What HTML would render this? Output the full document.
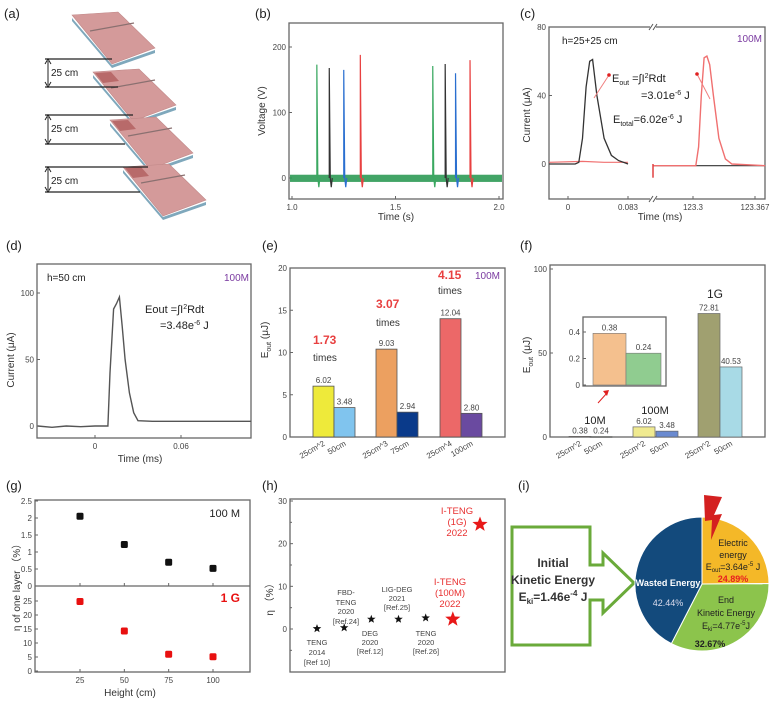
<!DOCTYPE html>
<html><head><meta charset="utf-8"><style>
html,body{margin:0;padding:0;background:#fff;}
svg{display:block;font-family:"Liberation Sans",Arial,sans-serif;}
.tk{font-size:8px;fill:#444;}
.ax{font-size:10px;fill:#333;}
.pl{font-size:13px;fill:#222;}
</style></head><body>
<svg id="fig" width="777" height="704" viewBox="0 0 777 704" xmlns="http://www.w3.org/2000/svg">
<text x="4" y="18" class="pl">(a)</text>
<g id="pa"></g>
<text x="255" y="18" class="pl">(b)</text>
<g id="pb"></g>
<text x="520" y="18" class="pl">(c)</text>
<g id="pc"></g>
<text x="6" y="250" class="pl">(d)</text>
<g id="pd"></g>
<text x="262" y="250" class="pl">(e)</text>
<g id="pe"></g>
<text x="520" y="250" class="pl">(f)</text>
<g id="pf"></g>
<text x="6" y="490" class="pl">(g)</text>
<g id="pg"></g>
<text x="262" y="490" class="pl">(h)</text>
<g id="ph"></g>
<text x="518" y="490" class="pl">(i)</text>
<g id="pi">
  <polygon points="512,527 590,527 590,565 603,565 603,553 634,583 603,613 603,600 590,600 590,645 512,645" fill="#fff" stroke="#6aaa3a" stroke-width="3"/>
  <text x="553" y="567" text-anchor="middle" font-size="12" font-weight="bold" fill="#333">Initial</text>
  <text x="553" y="584" text-anchor="middle" font-size="12" font-weight="bold" fill="#333">Kinetic Energy</text>
  <text x="553" y="601" text-anchor="middle" font-size="12" font-weight="bold" fill="#333">E<tspan font-size="8" dy="3">ki</tspan><tspan dy="-3">=1.46e</tspan><tspan font-size="8" dy="-5">-4</tspan><tspan dy="5"> J</tspan></text>
</g>
</svg>
<script>
// (b)
const bGreenT=[1.12,1.68], bGreenV=[173,171];
const bBlackT=[1.18,1.74], bBlackV=[168,174];
const bBlueT=[1.25,1.79], bBlueV=[165,160];
const bRedT=[1.33,1.86], bRedV=[188,180];
const bYTicks=[0,100,200], bXTicks=[1.0,1.5,2.0], bXTickLabels=["1.0","1.5","2.0"];
// (c)
const cBlackT=[-0.026,0,0.01,0.015,0.02,0.025,0.03,0.034,0.04,0.05,0.06,0.07,0.08,0.083];
const cBlackI=[0,0,0,1,15,45,60,61,40,15,5,2,0.5,0];
const cBlackT2=[123.257,123.3,123.33,123.378];
const cBlackI2=[-1,-1,-1,-1];
const cRedT=[-0.026,0.02,0.05,0.083];
const cRedI=[1,1.5,1,1];
const cRedT2=[123.257,123.3,123.303,123.306,123.309,123.312,123.315,123.318,123.322,123.328,123.335,123.342,123.378];
const cRedI2=[-1,-1,-1,10,40,62,63,58,40,15,3,0,-1];
const cYTicks=[0,40,80];
// (d)
const dT=[-0.040,-0.03,-0.02,-0.01,0,0.009,0.0105,0.013,0.015,0.017,0.019,0.021,0.024,0.027,0.03,0.04,0.06,0.08,0.109];
const dI=[0,-1,0,-0.5,0,0,40,88,92,97,75,50,25,10,4,3.5,3.5,3.5,3.5];
const dYTicks=[0,50,100];
// (e)
const eCats=["25cm^2","50cm","25cm^3","75cm","25cm^4","100cm"];
const eVals=[6.02,3.48,10.4,2.94,14.0,2.80];
const eLabels=["6.02","3.48","9.03","2.94","12.04","2.80"];
const eYTicks=[0,5,10,15,20];
// (f)
const fCats=["25cm^2","50cm","25cm^2","50cm","25cm^2","50cm"];
const fVals=[0.38,0.24,6.02,3.48,73.5,41.7];
const fLabels=["0.38","0.24","6.02","3.48","72.81","40.53"];
const fInsetVals=[0.39,0.24];
const fInsetLabels=["0.38","0.24"];
const fYTicks=[0,50,100];
const fInsetTicks=[0,0.2,0.4];
// (g)
const gHeights=[25,50,75,100];
const g100M=[2.05,1.22,0.70,0.52];
const g1G=[24.8,14.3,6.0,5.1];
const gUpperTicks=[0,0.5,1,1.5,2,2.5];
const gLowerTicks=[0,5,10,15,20,25];
// (h)
const hIdx=[0,1,2,3,4,5,6];
const hEta=[0.1,0.3,2.3,2.3,2.6,2.3,24.5];
const hYTicks=[0,10,20,30];
// (i)
const piePct=[24.89,32.67,42.44];

const NS="http://www.w3.org/2000/svg";
function mk(parent,tag,attrs,text){const e=document.createElementNS(NS,tag);for(const k in attrs)e.setAttribute(k,attrs[k]);if(text!==undefined)e.textContent=text;parent.appendChild(e);return e;}
function lin(d0,d1,r0,r1){return v=>r0+(v-d0)*(r1-r0)/(d1-d0);}
function box(g,x0,y0,x1,y1,name){const e=mk(g,'rect',{x:x0,y:y0,width:x1-x0,height:y1-y0,fill:'none',stroke:'#666','stroke-width':1.3});

return e;}
function ytick(g,x,y,lab,name){mk(g,'line',{x1:x,x2:x+3,y1:y,y2:y,stroke:'#666'});const t=mk(g,'text',{x:x-3,y:y+3,'text-anchor':'end',class:'tk'},lab);

}
function xtick(g,x,y,lab,name){mk(g,'line',{x1:x,x2:x,y1:y,y2:y-3,stroke:'#666'});const t=mk(g,'text',{x:x,y:y+11,'text-anchor':'middle',class:'tk'},lab);

}
function label(g,x,y,txt,opts,name){const a=Object.assign({x:x,y:y},opts||{});const t=mk(g,'text',a,txt);

return t;}
function rotLabel(g,x,y,txt,name,size){const t=mk(g,'text',{x:0,y:0,transform:`translate(${x},${y}) rotate(-90)`,'text-anchor':'middle','font-size':size||10,fill:'#333'},txt);

return t;}
function path(g,xs,ys,sx,sy,style,name){let d='';for(let i=0;i<xs.length;i++)d+=(i?'L':'M')+sx(xs[i]).toFixed(1)+','+sy(ys[i]).toFixed(1);const p=mk(g,'path',Object.assign({d:d,fill:'none'},style));

return p;}

// (a)
(function(){const g=document.getElementById('pa');
const plates=[[72,15],[93,72],[110,120],[123,167]];
plates.forEach((p,i)=>{const [x,y]=p;
 const sh=mk(g,'polygon',{points:`${x},${y+3} ${x+40},${y+50} ${x+83},${y+35} ${x+83},${y+38} ${x+40},${y+53} ${x},${y+6}`,fill:'#7fa8bc'});
 
 
 const pl=mk(g,'polygon',{points:`${x},${y} ${x+46},${y-3} ${x+83},${y+33} ${x+40},${y+49}`,fill:'#d49a9a',stroke:'#c08888','stroke-width':0.6});
 
 
 if(i>0){const dk=mk(g,'polygon',{points:`${x+2},${y+1} ${x+18},${y} ${x+26},${y+9} ${x+10},${y+11}`,fill:'#b86a6a'});
 
 }
 mk(g,'line',{x1:x+18,y1:y+16,x2:x+62,y2:y+8,stroke:'#8a7070','stroke-width':1.2});
});
const hl=[[59,112],[87,118],[115,133],[144,125],[167,148],[192,140]];
hl.forEach(h=>mk(g,'line',{x1:45,x2:h[1],y1:h[0],y2:h[0],stroke:'#222','stroke-width':1.2}));
[[59,87],[115,144],[167,192]].forEach((r,i)=>{
 mk(g,'line',{x1:48,x2:48,y1:r[0]+2,y2:r[1]-2,stroke:'#222','stroke-width':1});
 mk(g,'path',{d:`M45,${r[0]+5}L48,${r[0]}L51,${r[0]+5}M45,${r[1]-5}L48,${r[1]}L51,${r[1]-5}`,fill:'none',stroke:'#222'});
 label(g,51,r[0]+17,'25 cm',{'font-size':10,fill:'#222'},'distance-label');
});})();

// (b)
(function(){const g=document.getElementById('pb');
const sx=lin(1.0,2.0,292,499), sy=lin(0,200,178,47);
box(g,289,23,503,199,'plot-frame-b');
bYTicks.forEach(v=>ytick(g,289,sy(v),String(v),'y-tick-b'));
bXTicks.forEach((v,i)=>xtick(g,sx(v),199,bXTickLabels[i],'x-tick-b'));
rotLabel(g,265,111,'Voltage (V)','y-axis-title-b');
label(g,396,220,'Time (s)',{'text-anchor':'middle','font-size':10,fill:'#333'},'x-axis-title-b');
const nb=mk(g,'rect',{x:290,y:sy(5),width:212,height:sy(-6)-sy(5),fill:'#2e9a55',opacity:0.9});


const series=[[bGreenT,bGreenV,'#3aa860','green'],[bBlackT,bBlackV,'#333','black'],[bBlueT,bBlueV,'#2a6fd0','blue'],[bRedT,bRedV,'#e84040','red']];
series.forEach(s=>{s[0].forEach((t,i)=>{
 const l=mk(g,'path',{d:`M${sx(t)},${sy(0)}L${sx(t)},${sy(s[1][i])}L${sx(t)+1},${sy(0)}L${sx(t)+2},${sy(-14)}L${sx(t)+3},${sy(0)}`,fill:'none',stroke:s[2],'stroke-width':1.2});
 
 
});});})();

// (c)
(function(){const g=document.getElementById('pc');
const sxL=lin(0,0.083,568,628), sxR=lin(123.3,123.367,693,755), sy=lin(0,80,164,27);
box(g,549,27,765,199,'plot-frame-c');
cYTicks.forEach(v=>ytick(g,549,sy(v),String(v),'y-tick-c'));
xtick(g,sxL(0),199,'0','x-tick-c');xtick(g,sxL(0.083),199,'0.083','x-tick-c');
xtick(g,sxR(123.3),199,'123.3','x-tick-c');xtick(g,sxR(123.367),199,'123.367','x-tick-c');
mk(g,'rect',{x:650,y:24,width:6,height:6,fill:'#fff'});mk(g,'rect',{x:650,y:196,width:6,height:6,fill:'#fff'});
mk(g,'path',{d:'M649,30L653,24M653,30L657,24M649,202L653,196M653,202L657,196',stroke:'#555',fill:'none'});
rotLabel(g,530,115,'Current (μA)','y-axis-title-c');
label(g,660,220,'Time (ms)',{'text-anchor':'middle','font-size':10,fill:'#333'},'x-axis-title-c');
path(g,cRedT,cRedI,sxL,sy,{stroke:'#f07070','stroke-width':1.2},'red-trace-left');
path(g,cBlackT,cBlackI,sxL,sy,{stroke:'#333','stroke-width':1.3},'black-trace-left');
path(g,cBlackT2,cBlackI2,sxR,sy,{stroke:'#333','stroke-width':1.2},'black-trace-right');
path(g,cRedT2,cRedI2,sxR,sy,{stroke:'#f07070','stroke-width':1.4},'red-trace-right');
mk(g,'line',{x1:653,x2:653,y1:sy(0),y2:sy(-8),stroke:'#e04040','stroke-width':1.5});
label(g,562,44,'h=25+25 cm',{'font-size':10,fill:'#222'},'height-annotation-c');
label(g,762,42,'100M',{'text-anchor':'end','font-size':10,fill:'#7a3aa0'},'load-label-c');
mk(g,'path',{d:'M609,75L594,98M697,74L710,99',stroke:'#f08080','stroke-width':1});
mk(g,'circle',{cx:609,cy:75,r:1.8,fill:'#e02020'});mk(g,'circle',{cx:697,cy:74,r:1.8,fill:'#e02020'});
label(g,612,82,'',{'font-size':11,fill:'#222'},'eout-formula-c').innerHTML='E<tspan font-size="7" dy="3">out</tspan><tspan dy="-3"> =∫I</tspan><tspan font-size="7" dy="-4">2</tspan><tspan dy="4">Rdt</tspan>';
label(g,641,99,'',{'font-size':11,fill:'#222'},'eout-value-c').innerHTML='=3.01e<tspan font-size="7" dy="-4">-6</tspan><tspan dy="4"> J</tspan>';
label(g,613,123,'',{'font-size':11,fill:'#222'},'etotal-value-c').innerHTML='E<tspan font-size="7" dy="3">total</tspan><tspan dy="-3">=6.02e</tspan><tspan font-size="7" dy="-4">-6</tspan><tspan dy="4"> J</tspan>';
})();

// (d)
(function(){const g=document.getElementById('pd');
const sx=lin(0,0.06,95,181), sy=lin(0,100,426,293);
box(g,37,264,251,438,'plot-frame-d');
dYTicks.forEach(v=>ytick(g,37,sy(v),String(v),'y-tick-d'));
xtick(g,sx(0),438,'0','x-tick-d');xtick(g,sx(0.06),438,'0.06','x-tick-d');
rotLabel(g,14,360,'Current (μA)','y-axis-title-d');
label(g,140,462,'Time (ms)',{'text-anchor':'middle','font-size':10,fill:'#333'},'x-axis-title-d');
path(g,dT,dI,sx,sy,{stroke:'#555','stroke-width':1.4},'current-trace-d');
label(g,47,281,'h=50 cm',{'font-size':10,fill:'#222'},'height-annotation-d');
label(g,249,281,'100M',{'text-anchor':'end','font-size':10,fill:'#7a3aa0'},'load-label-d');
label(g,145,313,'',{'font-size':11,fill:'#222'},'eout-formula-d').innerHTML='Eout =∫I<tspan font-size="7" dy="-4">2</tspan><tspan dy="4">Rdt</tspan>';
label(g,160,329,'',{'font-size':11,fill:'#222'},'eout-value-d').innerHTML='=3.48e<tspan font-size="7" dy="-4">-6</tspan><tspan dy="4"> J</tspan>';
})();

// (e)
(function(){const g=document.getElementById('pe');
const sy=lin(0,20,437,268);
const xs=[313,334,376,397,440,461], w=21;
const cols=['#eeea3a','#80c4ee','#eca060','#0a3a8a','#ec6868','#6a4aa0'];
box(g,290,268,505,437,'plot-frame-e');
eYTicks.forEach(v=>ytick(g,290,sy(v),String(v),'y-tick-e'));
eVals.forEach((v,i)=>{
 const r=mk(g,'rect',{x:xs[i],y:sy(v),width:w,height:sy(0)-sy(v),fill:cols[i],stroke:'#555','stroke-width':0.8});
 
 
 label(g,xs[i]+w/2,sy(v)-3,eLabels[i],{'text-anchor':'middle',class:'tk'},'bar-value-label');
 label(g,0,0,eCats[i],{class:'tk',transform:`translate(${xs[i]+w/2+2},${445}) rotate(-30)`,'text-anchor':'end'},'x-category-label');
});
rotLabel(g,268,340,'','y-axis-title-e').innerHTML='E<tspan font-size="7" dy="3">out</tspan><tspan dy="-3"> (μJ)</tspan>';
const red={'font-size':12,'font-weight':'bold',fill:'#e84040'}, blk={'font-size':10,fill:'#333'};
label(g,313,344,'1.73',red,'ratio-1-73');label(g,313,361,'times',blk,'times-label');
label(g,376,308,'3.07',red,'ratio-3-07');label(g,376,326,'times',blk,'times-label');
label(g,438,279,'4.15',red,'ratio-4-15');label(g,438,294,'times',blk,'times-label');
label(g,500,279,'100M',{'text-anchor':'end','font-size':10,fill:'#7a3aa0'},'load-label-e');
})();

// (f)
(function(){const g=document.getElementById('pf');
const sy=lin(0,100,437,269);
const xs=[569,590,633,656,698,720], w=22;
const cols=['#8a6a60','#7a8a70','#f0ea90','#6a8ad0','#a0a070','#a8dae6'];
box(g,550,265,765,437,'plot-frame-f');
fYTicks.forEach(v=>ytick(g,550,sy(v),String(v),'y-tick-f'));
fVals.forEach((v,i)=>{
 const r=mk(g,'rect',{x:xs[i],y:sy(v),width:w,height:Math.max(0.8,sy(0)-sy(v)),fill:cols[i],stroke:'#666','stroke-width':0.7});
 
 
 label(g,xs[i]+w/2,sy(v)-3,fLabels[i],{'text-anchor':'middle',class:'tk'},'bar-value-label');
 label(g,0,0,fCats[i],{class:'tk',transform:`translate(${xs[i]+w/2+2},${445}) rotate(-30)`,'text-anchor':'end'},'x-category-label');
});
rotLabel(g,530,355,'','y-axis-title-f').innerHTML='E<tspan font-size="7" dy="3">out</tspan><tspan dy="-3"> (μJ)</tspan>';
label(g,715,298,'1G',{'text-anchor':'middle','font-size':12,fill:'#222'},'group-label-1g');
label(g,655,414,'100M',{'text-anchor':'middle','font-size':11,fill:'#222'},'group-label-100m');
label(g,595,424,'10M',{'text-anchor':'middle','font-size':11,fill:'#222'},'group-label-10m');
mk(g,'line',{x1:598,y1:403,x2:607,y2:393,stroke:'#e02020','stroke-width':1});
mk(g,'path',{d:'M603,391L609,390L607,396Z',fill:'#e02020'});
const isy=lin(0,0.4,385,332);
const ix=[593,626], iw=[33,35], ic=['#f4c08e','#90cc90'];
box(g,583,317,666,386,'inset-frame');
fInsetTicks.forEach(v=>ytick(g,583,isy(v),String(v),'inset-y-tick'));
fInsetVals.forEach((v,i)=>{
 const r=mk(g,'rect',{x:ix[i],y:isy(v),width:iw[i],height:isy(0)-isy(v),fill:ic[i],stroke:'#777','stroke-width':0.6});
 
 
 label(g,ix[i]+iw[i]/2,isy(v)-3,fInsetLabels[i],{'text-anchor':'middle',class:'tk'},'inset-bar-value');
});
})();

// (g)
(function(){const g=document.getElementById('pg');
const sx=lin(25,100,80,213), syU=lin(0,2.5,586,501), syL=lin(0,25,671,601);
box(g,35,500,250,672,'plot-frame-g');
mk(g,'line',{x1:35,x2:250,y1:586,y2:586,stroke:'#666','stroke-width':1.2});
gUpperTicks.forEach(v=>ytick(g,35,syU(v),String(v),'y-tick-upper'));
gLowerTicks.forEach(v=>ytick(g,35,syL(v),String(v),'y-tick-lower'));
gHeights.forEach(h=>{xtick(g,sx(h),672,String(h),'x-tick-g');mk(g,'line',{x1:sx(h),x2:sx(h),y1:586,y2:583,stroke:'#666'});});
gHeights.forEach((h,i)=>{
 const a=mk(g,'rect',{x:sx(h)-3.5,y:syU(g100M[i])-3.5,width:7,height:7,rx:1.5,fill:'#111'});
 
 
 const b=mk(g,'rect',{x:sx(h)-3.5,y:syL(g1G[i])-3.5,width:7,height:7,rx:1.5,fill:'#e81010'});
 
 
});
label(g,240,517,'100 M',{'text-anchor':'end','font-size':11,fill:'#222'},'series-label-100m');
label(g,240,602,'1 G',{'text-anchor':'end','font-size':12,'font-weight':'bold',fill:'#e81010'},'series-label-1g');
rotLabel(g,20,585,'η of one layer （%）','y-axis-title-g');
label(g,130,696,'Height (cm)',{'text-anchor':'middle','font-size':10,fill:'#333'},'x-axis-title-g');
})();

// (h)
(function(){const g=document.getElementById('ph');
const sx=lin(0,6,317,480), sy=lin(0,30,629,501);
box(g,290,499,505,672,'plot-frame-h');
hYTicks.forEach(v=>ytick(g,290,sy(v),String(v),'y-tick-h'));
[-5,5,15,25].forEach(v=>mk(g,'line',{x1:290,x2:292,y1:sy(v),y2:sy(v),stroke:'#666'}));
rotLabel(g,273,597,'η （%）','y-axis-title-h');
function star(cx,cy,r,fill,name){let p='';for(let k=0;k<10;k++){const a=-Math.PI/2+k*Math.PI/5;const rr=k%2?r*0.42:r;p+=(cx+rr*Math.cos(a)).toFixed(1)+','+(cy+rr*Math.sin(a)).toFixed(1)+' ';}
 const s=mk(g,'polygon',{points:p,fill:fill});
 
 }
hIdx.forEach((k,i)=>{const big=i>=5;star(sx(k),sy(hEta[i]),big?8:4.5,big?'#e81818':'#111',big?'i-teng-star':'reference-star');});
const sm={'text-anchor':'middle','font-size':7.5,fill:'#444'};
const blocks=[[317,[645,655,665],['TENG','2014','[Ref 10]']],[346,[595,605,614,624],['FBD-','TENG','2020','[Ref.24]']],[370,[636,645,654],['DEG','2020','[Ref.12]']],[397,[592,601,610],['LIG-DEG','2021','[Ref.25]']],[426,[636,645,654],['TENG','2020','[Ref.26]']]];
blocks.forEach(b=>b[2].forEach((t,j)=>label(g,b[0],b[1][j],t,sm,'reference-label')));
const rd={'text-anchor':'middle','font-size':9.5,fill:'#e83030'};
['I-TENG','(100M)','2022'].forEach((t,j)=>label(g,450,[585,596,607][j],t,rd,'i-teng-100m-label'));
['I-TENG','(1G)','2022'].forEach((t,j)=>label(g,457,[514,525,536][j],t,rd,'i-teng-1g-label'));
})();

// (i)
(function(){const g=document.getElementById('pi');
const cx=702, cy=584, r=67;
const cols=['#f4b828','#8cc44c','#134a7c'];
const names=['slice-electric-energy','slice-end-kinetic-energy','slice-wasted-energy'];
const total=piePct.reduce((a,b)=>a+b,0);
let a0=-Math.PI/2;
piePct.forEach((p,i)=>{const a1=a0+2*Math.PI*p/total;
 const d=`M${cx},${cy}L${cx+r*Math.cos(a0)},${cy+r*Math.sin(a0)}A${r},${r} 0 ${a1-a0>Math.PI?1:0} 1 ${cx+r*Math.cos(a1)},${cy+r*Math.sin(a1)}Z`;
 const s=mk(g,'path',{d:d,fill:cols[i],stroke:'#fff','stroke-width':1});
 
 
 a0=a1;});
const bolt=mk(g,'polygon',{points:'704,495 722,497 714,515 722,514 711,540 712,520 705,521',fill:'#d42020'});


const w={'text-anchor':'middle','font-size':9,'font-weight':'bold',fill:'#fff'};
label(g,668,586,'Wasted Energy',w,'wasted-energy-label');
label(g,668,606,'42.44%',{'text-anchor':'middle','font-size':9,fill:'#dde'},'wasted-energy-pct');
const k={'text-anchor':'middle','font-size':9,fill:'#222'};
label(g,733,546,'Electric',k,'electric-label');label(g,733,558,'energy',k,'electric-label');
label(g,733,570,'',k,'eout-label-i').innerHTML='E<tspan font-size="6" dy="2">out</tspan><tspan dy="-2">=3.64e</tspan><tspan font-size="6" dy="-4">-5</tspan><tspan dy="4"> J</tspan>';
label(g,733,582,'24.89%',{'text-anchor':'middle','font-size':9,'font-weight':'bold',fill:'#e82020'},'electric-pct');
label(g,726,603,'End',k,'end-label');label(g,726,616,'Kinetic Energy',k,'end-kinetic-label');
label(g,726,629,'',k,'eki-label-i').innerHTML='E<tspan font-size="6" dy="2">ki</tspan><tspan dy="-2">=4.77e</tspan><tspan font-size="6" dy="-4">-5</tspan><tspan dy="4">J</tspan>';
label(g,710,647,'32.67%',{'text-anchor':'middle','font-size':9,'font-weight':'bold',fill:'#222'},'end-kinetic-pct');
})();
</script>
</body></html>
